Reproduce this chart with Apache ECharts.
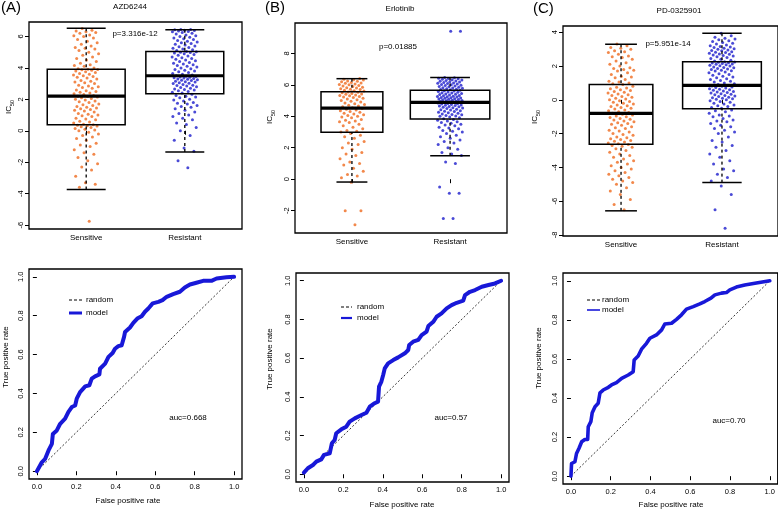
<!DOCTYPE html>
<html><head><meta charset="utf-8">
<script src="https://cdn.jsdelivr.net/npm/echarts@6/dist/echarts.min.js"></script>
<style>html,body{margin:0;padding:0;background:#fff}#c{width:778px;height:509px}</style>
</head><body><div id="c"></div>
<script>
// ---------------- DATA ----------------
const groups = ['Sensitive', 'Resistant'];
const drugs = ['AZD6244', 'Erlotinib', 'PD-0325901'];
const panelLetters = ['(A)', '(B)', '(C)'];
const pValues = ['p=3.316e-12', 'p=0.01885', 'p=5.951e-14'];
const aucLabels = ['auc=0.668', 'auc=0.57', 'auc=0.70'];

const ticksA = [-6, -4, -2, 0, 2, 4, 6];
const ticksB = [-2, 0, 2, 4, 6, 8];
const ticksC = [-8, -6, -4, -2, 0, 2, 4];
const rocTicks = [0, 0.2, 0.4, 0.6, 0.8, 1.0];

// box stats: [lower whisker, Q1, median, Q3, upper whisker]
const boxA = [[-3.73, 0.39, 2.21, 3.92, 6.53], [-1.35, 2.36, 3.5, 5.05, 6.42]];
const boxB = [[-0.18, 2.98, 4.52, 5.56, 6.39], [1.49, 3.83, 4.89, 5.65, 6.47]];
const boxC = [[-6.57, -2.63, -0.8, 0.91, 3.29], [-4.9, -0.53, 0.85, 2.26, 3.94]];

// IC50 values
const sensA = [-5.75,-3.6,-3.4,-3.3,-2.9,-2.5,-2.3,-2.1,-1.9,-1.7,-1.5,-1.4,-1.2,-1.0,-0.9,-0.8,-0.6,-0.5,-0.4,-0.3,-0.2,-0.1,0.0,0.05,0.1,0.15,0.2,0.25,0.3,0.32,0.35,0.38,
 0.42,0.5,0.55,0.6,0.7,0.75,0.8,0.9,0.95,1.0,1.05,1.1,1.2,1.25,1.3,1.35,1.4,1.45,1.5,1.55,1.6,1.65,1.7,1.8,1.85,1.9,1.95,2.0,2.05,2.1,2.15,2.18,2.2,
 2.25,2.3,2.35,2.4,2.45,2.5,2.55,2.6,2.7,2.75,2.8,2.85,2.9,3.0,3.05,3.1,3.15,3.2,3.3,3.35,3.4,3.45,3.5,3.55,3.6,3.65,3.7,3.75,3.8,3.85,3.88,3.9,3.92,
 3.95,4.0,4.1,4.15,4.2,4.3,4.4,4.5,4.6,4.7,4.8,4.9,5.0,5.1,5.2,5.25,5.3,5.4,5.5,5.6,5.7,5.8,5.9,6.0,6.05,6.1,6.2,6.25,6.3,6.35,6.4,6.5];
const resA = [-2.35,-1.9,-1.3,-1.1,-0.6,-0.3,0.0,0.2,0.4,0.5,0.7,0.8,0.9,1.0,1.1,1.2,1.3,1.4,1.5,1.55,1.6,1.7,1.75,1.8,1.9,1.95,2.0,2.1,2.15,2.2,2.25,2.32,
 2.4,2.45,2.5,2.55,2.6,2.62,2.65,2.7,2.75,2.8,2.85,2.88,2.9,2.95,3.0,3.02,3.05,3.1,3.12,3.15,3.2,3.22,3.25,3.28,3.3,3.32,3.35,3.38,3.4,3.42,3.45,3.47,3.5,
 3.55,3.6,3.65,3.7,3.75,3.8,3.85,3.9,3.95,4.0,4.05,4.1,4.15,4.2,4.25,4.3,4.35,4.4,4.45,4.5,4.55,4.6,4.65,4.7,4.75,4.8,4.85,4.9,4.95,4.98,5.0,5.02,5.05,
 5.1,5.15,5.2,5.25,5.3,5.35,5.4,5.45,5.5,5.55,5.6,5.65,5.7,5.75,5.8,5.85,5.9,5.95,6.0,6.05,6.1,6.15,6.2,6.25,6.3,6.32,6.35,6.38,6.4,6.42,6.44,6.45];
const sensB = [-2.9,-2.0,-2.0,-0.2,0.1,0.2,0.3,0.5,0.7,0.9,1.0,1.1,1.3,1.5,1.6,1.7,1.9,2.0,2.2,2.3,2.4,2.6,2.7,2.8,2.9,
 3.0,3.05,3.1,3.2,3.3,3.4,3.5,3.6,3.65,3.7,3.75,3.8,3.9,3.95,4.0,4.05,4.1,4.15,4.2,4.25,4.3,4.35,4.4,4.45,4.5,
 4.55,4.6,4.65,4.7,4.75,4.8,4.85,4.9,4.95,5.0,5.05,5.1,5.15,5.2,5.22,5.25,5.3,5.32,5.35,5.4,5.42,5.45,5.5,5.52,5.55,
 5.6,5.62,5.65,5.7,5.72,5.75,5.8,5.82,5.85,5.9,5.92,5.95,6.0,6.02,6.05,6.1,6.12,6.15,6.2,6.22,6.25,6.3,6.33,6.36,6.4];
const resB = [-2.5,-2.5,-0.9,-0.9,-0.5,1.0,1.1,1.5,1.6,1.7,1.9,2.0,2.2,2.3,2.4,2.5,2.6,2.7,2.8,2.9,3.0,3.05,3.1,3.2,3.25,3.3,3.4,3.45,3.5,3.55,3.6,3.65,3.7,3.75,3.8,
 3.85,3.9,3.95,4.0,4.02,4.05,4.1,4.12,4.15,4.2,4.22,4.25,4.3,4.32,4.35,4.4,4.42,4.45,4.5,4.52,4.55,4.58,4.6,4.62,4.65,4.68,4.7,4.72,4.75,4.78,4.8,4.82,4.85,4.87,4.89,
 4.9,4.92,4.94,4.96,4.98,5.0,5.02,5.04,5.06,5.08,5.1,5.12,5.14,5.16,5.18,5.2,5.22,5.24,5.26,5.28,5.3,5.32,5.35,5.38,5.4,5.42,5.45,5.48,5.5,5.52,5.55,5.58,5.6,5.62,5.65,
 5.68,5.7,5.72,5.75,5.78,5.8,5.82,5.85,5.88,5.9,5.92,5.95,5.98,6.0,6.02,6.05,6.08,6.1,6.12,6.15,6.18,6.2,6.22,6.25,6.28,6.3,6.32,6.35,6.38,6.4,6.42,6.45,6.47,9.4,9.4];
const sensC = [-6.5,-6.2,-5.9,-5.6,-5.4,-5.2,-5.0,-4.9,-4.8,-4.7,-4.6,-4.5,-4.4,-4.3,-4.2,-4.1,-4.0,-3.9,-3.8,-3.7,-3.6,-3.5,-3.4,-3.3,-3.2,-3.1,-3.0,-2.9,-2.8,-2.75,-2.7,-2.65,
 -2.6,-2.55,-2.5,-2.45,-2.4,-2.35,-2.3,-2.25,-2.2,-2.1,-2.05,-2.0,-1.9,-1.85,-1.8,-1.7,-1.65,-1.6,-1.5,-1.45,-1.4,-1.35,-1.3,-1.25,-1.2,-1.15,-1.1,-1.05,-1.0,-0.95,-0.9,-0.85,-0.8,
 -0.75,-0.7,-0.65,-0.6,-0.55,-0.5,-0.45,-0.4,-0.35,-0.3,-0.25,-0.2,-0.15,-0.1,-0.05,0.0,0.05,0.1,0.15,0.2,0.25,0.3,0.35,0.4,0.45,0.5,0.55,0.6,0.65,0.7,0.75,0.8,0.9,
 0.95,1.0,1.05,1.1,1.2,1.3,1.35,1.4,1.5,1.6,1.7,1.75,1.8,1.85,1.9,2.0,2.1,2.2,2.3,2.4,2.5,2.55,2.6,2.7,2.8,2.85,2.9,3.0,3.05,3.1,3.2,3.3];
const resC = [-7.6,-6.5,-5.6,-5.1,-4.8,-4.6,-4.4,-4.2,-4.1,-3.8,-3.6,-3.4,-3.2,-3.0,-2.8,-2.7,-2.5,-2.4,-2.2,-2.0,-1.9,-1.8,-1.7,-1.6,-1.5,-1.4,-1.3,-1.25,-1.2,-1.1,-1.0,-0.95,-0.9,-0.8,-0.7,-0.65,-0.6,
 -0.5,-0.45,-0.4,-0.35,-0.3,-0.25,-0.2,-0.15,-0.1,-0.05,0.0,0.03,0.06,0.1,0.13,0.16,0.2,0.23,0.26,0.3,0.33,0.36,0.4,0.43,0.46,0.5,0.53,0.56,0.6,0.63,0.66,0.7,0.73,0.76,0.8,0.82,0.85,
 0.9,0.95,1.0,1.05,1.1,1.15,1.2,1.25,1.3,1.35,1.4,1.45,1.5,1.55,1.6,1.65,1.7,1.72,1.75,1.8,1.82,1.85,1.9,1.92,1.95,2.0,2.02,2.05,2.08,2.1,2.12,2.15,2.18,2.2,2.22,2.24,2.26,
 2.3,2.35,2.4,2.45,2.5,2.55,2.6,2.62,2.65,2.7,2.72,2.75,2.8,2.82,2.85,2.9,2.92,2.95,3.0,3.02,3.05,3.1,3.12,3.15,3.2,3.25,3.3,3.35,3.4,3.45,3.5,3.55,3.6,3.65,3.7,3.8,3.94];

// ROC curves [false positive rate, true positive rate]
const rocA = [[0,0],[0.025,0.046],[0.042,0.064],[0.059,0.107],[0.076,0.141],[0.081,0.192],[0.101,0.21],[0.118,0.244],[0.143,0.27],[0.16,0.305],[0.177,0.33],[0.194,0.338],[0.202,0.373],[0.219,0.407],[0.245,0.436],[0.266,0.442],[0.278,0.476],[0.295,0.488],[0.317,0.498],[0.32,0.527],[0.346,0.553],[0.363,0.588],[0.384,0.608],[0.396,0.63],[0.413,0.643],[0.43,0.648],[0.442,0.691],[0.447,0.716],[0.472,0.739],[0.489,0.763],[0.509,0.785],[0.531,0.797],[0.548,0.82],[0.565,0.837],[0.587,0.863],[0.616,0.871],[0.637,0.88],[0.658,0.897],[0.691,0.911],[0.725,0.923],[0.75,0.945],[0.776,0.96],[0.809,0.969],[0.843,0.979],[0.885,0.979],[0.911,0.991],[0.961,0.997],[1,1]];
const rocB = [[0,0.009],[0.02,0.031],[0.046,0.048],[0.063,0.065],[0.088,0.077],[0.102,0.1],[0.131,0.108],[0.142,0.16],[0.156,0.177],[0.164,0.212],[0.19,0.232],[0.215,0.246],[0.232,0.272],[0.258,0.289],[0.292,0.306],[0.317,0.318],[0.334,0.349],[0.359,0.367],[0.376,0.375],[0.381,0.453],[0.393,0.479],[0.402,0.513],[0.41,0.547],[0.427,0.573],[0.453,0.59],[0.478,0.604],[0.512,0.625],[0.529,0.642],[0.534,0.668],[0.554,0.685],[0.58,0.694],[0.597,0.719],[0.622,0.737],[0.631,0.766],[0.656,0.788],[0.673,0.814],[0.698,0.831],[0.724,0.857],[0.749,0.874],[0.775,0.886],[0.808,0.897],[0.817,0.926],[0.842,0.943],[0.868,0.952],[0.902,0.969],[0.936,0.978],[0.969,0.986],[1,1]];
const rocC = [[0,0],[0.003,0.065],[0.02,0.074],[0.028,0.116],[0.04,0.142],[0.054,0.176],[0.07,0.188],[0.084,0.188],[0.087,0.253],[0.1,0.279],[0.107,0.325],[0.121,0.356],[0.137,0.373],[0.146,0.427],[0.162,0.441],[0.188,0.455],[0.204,0.467],[0.229,0.479],[0.255,0.501],[0.288,0.518],[0.313,0.535],[0.318,0.595],[0.338,0.615],[0.355,0.65],[0.38,0.68],[0.397,0.706],[0.43,0.723],[0.456,0.749],[0.472,0.779],[0.506,0.783],[0.531,0.803],[0.556,0.826],[0.581,0.855],[0.615,0.868],[0.648,0.882],[0.673,0.894],[0.704,0.911],[0.724,0.928],[0.757,0.937],[0.782,0.94],[0.799,0.954],[0.832,0.968],[0.874,0.979],[0.925,0.988],[1,1]];
const randomLine = [[0,0],[1,1]];

// ---------------- LAYOUT / STYLE ----------------
const FONT = 'Liberation Sans, Arial, Helvetica, sans-serif';
const ORANGE = '#ef6a1e', BLUE = '#1d1dcc', ROCBLUE = '#1818d8';
const topGrids = [[29,22,213,207],[295,23,212,210],[563,26,215,210]];
const botGrids = [[29,269,213,210],[296,273,213,209],[563,273,215,211]];
const topX = [[0.42,2.58],[0.42,2.58],[0.425,2.555]];
const topY = [[-6.25,6.92],[-3.42,9.93],[-8.06,4.37]];
const boxWidths = [[0.79,0.79],[0.63,0.81],[0.63,0.78]];
const JIT = 0.13;
const rocLineW = [4, 4, 3.6];
const legendPos = [[69,82,86,300,313,3],[341,352,357,307,318,2.2],[587,600,602,300,310,1.6]];
const titlePos = [[130,7],[400,9],[679,11]];
const letterPos = [[1,8],[265,8],[533,9]];
const pPos = [[135,34],[398,47],[668,44]];
const aucPos = [[188,418],[451,418],[729,421]];
const icLabPos = [[10,107],[271,117],[536,117]];
const tprLabPos = [[6,357],[270,359],[539,358]];
const fprLabPos = [[128,501],[402,505],[671,505]];

const boxes = [boxA, boxB, boxC];
const sens = [sensA, sensB, sensC];
const res = [resA, resB, resC];
const rocs = [rocA, rocB, rocC];
const yTicks = [ticksA, ticksB, ticksC];

function jittered(vals, cat) {
  return vals.map((v, i) => [cat + JIT * (2 * (((i + 1) * 0.6180339887) % 1) - 1), v]);
}

function boxRender(widths) {
  return function (params, api) {
    const cat = api.value(0), lo = api.value(1), q1 = api.value(2), med = api.value(3), q3 = api.value(4), hi = api.value(5);
    const w = widths[params.dataIndex];
    const a = api.coord([cat - w / 2, q3]), b = api.coord([cat + w / 2, q1]);
    const m = api.coord([cat, med]);
    const pLo = api.coord([cat, lo]), pHi = api.coord([cat, hi]);
    const cl = api.coord([cat - w / 4, lo])[0], cr = api.coord([cat + w / 4, lo])[0];
    const ln = (x1, y1, x2, y2, lw, dash) => ({type: 'line', shape: {x1, y1, x2, y2}, style: {stroke: '#000', lineWidth: lw, lineDash: dash || null}});
    return {type: 'group', children: [
      ln(pHi[0], pHi[1], pHi[0], a[1], 1.3, [3, 3]),
      ln(pLo[0], pLo[1], pLo[0], b[1], 1.3, [3, 3]),
      ln(cl, pHi[1], cr, pHi[1], 1.5),
      ln(cl, pLo[1], cr, pLo[1], 1.5),
      {type: 'rect', shape: {x: a[0], y: a[1], width: b[0] - a[0], height: b[1] - a[1]}, style: {fill: 'none', stroke: '#000', lineWidth: 1.5}},
      ln(a[0], m[1], b[0], m[1], 3.2)
    ]};
  };
}

const grid = [];
const xAxis = [], yAxis = [], series = [];
const tickStyle = {show: true, length: 4, lineStyle: {color: '#000', width: 1}};

for (let p = 0; p < 3; p++) {
  const g = topGrids[p];
  grid.push({left: g[0], top: g[1], width: g[2], height: g[3], show: true, borderColor: '#000', borderWidth: 1.3, backgroundColor: 'rgba(0,0,0,0)'});
  xAxis.push({type: 'value', gridIndex: p, min: topX[p][0], max: topX[p][1], splitLine: {show: false}, axisLine: {show: false},
    axisTick: Object.assign({customValues: [1, 2]}, tickStyle),
    axisLabel: {customValues: [1, 2], formatter: v => groups[Math.round(v) - 1], fontSize: 8, color: '#000', margin: 5, fontFamily: FONT}});
  yAxis.push({type: 'value', gridIndex: p, min: topY[p][0], max: topY[p][1], splitLine: {show: false}, axisLine: {show: false},
    axisTick: Object.assign({customValues: yTicks[p]}, tickStyle),
    axisLabel: {customValues: yTicks[p], rotate: 90, fontSize: 7.5, color: '#000', margin: 4, fontFamily: FONT}});
}
for (let p = 0; p < 3; p++) {
  const g = botGrids[p];
  grid.push({left: g[0], top: g[1], width: g[2], height: g[3], show: true, borderColor: '#000', borderWidth: 1.3, backgroundColor: 'rgba(0,0,0,0)'});
  xAxis.push({type: 'value', gridIndex: 3 + p, min: -0.04, max: 1.04, splitLine: {show: false}, axisLine: {show: false},
    axisTick: Object.assign({customValues: rocTicks}, tickStyle),
    axisLabel: {customValues: rocTicks, formatter: v => v.toFixed(1), fontSize: 7.5, color: '#000', margin: 4, fontFamily: FONT}});
  yAxis.push({type: 'value', gridIndex: 3 + p, min: -0.04, max: 1.04, splitLine: {show: false}, axisLine: {show: false},
    axisTick: Object.assign({customValues: rocTicks}, tickStyle),
    axisLabel: {customValues: rocTicks, formatter: v => v.toFixed(1), rotate: 90, fontSize: 7.5, color: '#000', margin: 4, fontFamily: FONT}});
}

for (let p = 0; p < 3; p++) {
  series.push({type: 'scatter', xAxisIndex: p, yAxisIndex: p, data: jittered(sens[p], 1), symbol: 'circle', symbolSize: 3, itemStyle: {color: ORANGE}, z: 2, silent: true});
  series.push({type: 'scatter', xAxisIndex: p, yAxisIndex: p, data: jittered(res[p], 2), symbol: 'circle', symbolSize: 3, itemStyle: {color: BLUE}, z: 2, silent: true});
  series.push({type: 'custom', xAxisIndex: p, yAxisIndex: p, renderItem: boxRender(boxWidths[p]),
    encode: {x: 0, y: [1, 2, 3, 4, 5]}, data: boxes[p].map((b, i) => [i + 1].concat(b)), z: 3, silent: true});
}
for (let p = 0; p < 3; p++) {
  series.push({type: 'line', xAxisIndex: 3 + p, yAxisIndex: 3 + p, data: randomLine, showSymbol: false,
    lineStyle: {color: '#000', width: 0.8, type: [2, 2]}, z: 2, silent: true});
  series.push({type: 'line', xAxisIndex: 3 + p, yAxisIndex: 3 + p, data: rocs[p], showSymbol: false,
    lineStyle: {color: ROCBLUE, width: rocLineW[p], join: 'round', cap: 'round'}, z: 3, silent: true});
}

const graphic = [];
const txt = (x, y, text, size, extra) => Object.assign({type: 'text', x, y, silent: true,
  style: {text, fontSize: size, fontFamily: FONT, fill: '#000', align: 'center', verticalAlign: 'middle'}}, extra || {});
for (let p = 0; p < 3; p++) {
  graphic.push(txt(titlePos[p][0], titlePos[p][1], drugs[p], 8));
  graphic.push(txt(letterPos[p][0], letterPos[p][1], panelLetters[p], 15, {style: {text: panelLetters[p], fontSize: 15, fontFamily: FONT, fill: '#000', align: 'left', verticalAlign: 'middle'}}));
  graphic.push(txt(pPos[p][0], pPos[p][1], pValues[p], 8));
  graphic.push(txt(aucPos[p][0], aucPos[p][1], aucLabels[p], 8));
  graphic.push({type: 'text', x: icLabPos[p][0], y: icLabPos[p][1], rotation: Math.PI / 2, silent: true,
    style: {text: '{a|IC}{b|50}', fontFamily: FONT, fill: '#000', align: 'center', verticalAlign: 'middle',
      rich: {a: {fontSize: 8, lineHeight: 11, verticalAlign: 'top', fontFamily: FONT}, b: {fontSize: 5.5, lineHeight: 11, verticalAlign: 'bottom', fontFamily: FONT}}}});
  graphic.push(txt(tprLabPos[p][0], tprLabPos[p][1], 'True positive rate', 8, {rotation: Math.PI / 2}));
  graphic.push(txt(fprLabPos[p][0], fprLabPos[p][1], 'False positive rate', 8));
  const L = legendPos[p];
  graphic.push({type: 'line', silent: true, shape: {x1: L[0], y1: L[3], x2: L[1], y2: L[3]}, style: {stroke: '#000', lineWidth: 1, lineDash: [3, 2]}});
  graphic.push({type: 'line', silent: true, shape: {x1: L[0], y1: L[4], x2: L[1], y2: L[4]}, style: {stroke: ROCBLUE, lineWidth: L[5]}});
  graphic.push({type: 'text', x: L[2], y: L[3], silent: true, style: {text: 'random', fontSize: 8, fontFamily: FONT, fill: '#000', align: 'left', verticalAlign: 'middle'}});
  graphic.push({type: 'text', x: L[2], y: L[4], silent: true, style: {text: 'model', fontSize: 8, fontFamily: FONT, fill: '#000', align: 'left', verticalAlign: 'middle'}});
}

const chart = echarts.init(document.getElementById('c'), null, {renderer: 'canvas'});
chart.setOption({animation: false, backgroundColor: '#fff', textStyle: {fontFamily: FONT, color: '#000'},
  grid, xAxis, yAxis, series, graphic});
</script></body></html>
